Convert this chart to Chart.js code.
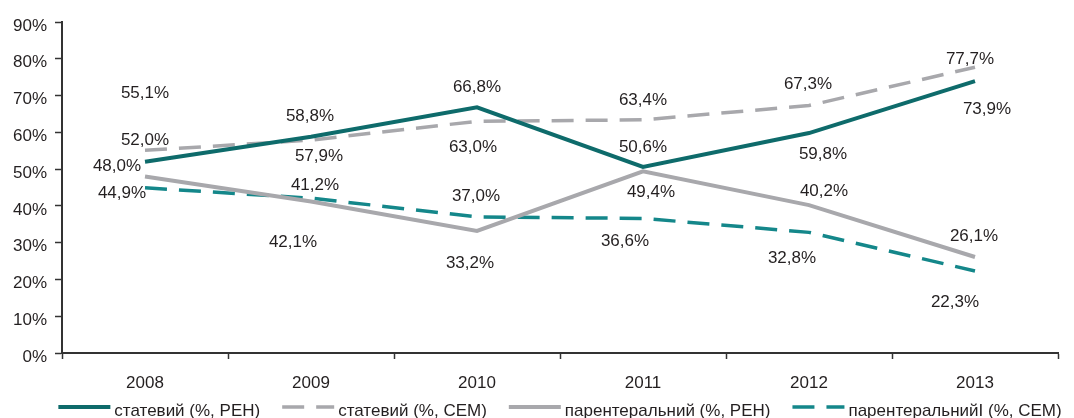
<!DOCTYPE html>
<html>
<head>
<meta charset="utf-8">
<script src="https://cdn.jsdelivr.net/npm/chart.js@4.4.1/dist/chart.umd.min.js"></script>
<style>
  html, body { margin: 0; padding: 0; background: #fff; }
  #wrap { width: 1074px; height: 418px; }
</style>
</head>
<body>
<div id="wrap"><canvas id="myChart"></canvas></div>
<script>
const years = ['2008', '2009', '2010', '2011', '2012', '2013'];
const statevyiReh = [52.0, 58.8, 66.8, 50.6, 59.8, 73.9];
const statevyiSem = [55.1, 57.9, 63.0, 63.4, 67.3, 77.7];
const parentReh = [48.0, 41.2, 33.2, 49.4, 40.2, 26.1];
const parentSem = [44.9, 42.1, 37.0, 36.6, 32.8, 22.3];
const yMax = 90;
const yStep = 10;

const FONT = '"Liberation Sans", Arial, Helvetica, sans-serif';
const TEXT = '#231f20';
const AXIS = '#333333';

// підписи значень біля кожної точки, зсув задається в наборі даних
const valueLabels = {
    id: 'valueLabels',
    afterDatasetsDraw(chart) {
        const ctx = chart.ctx;
        ctx.save();
        ctx.font = '17px ' + FONT;
        ctx.fillStyle = TEXT;
        ctx.textAlign = 'center';
        ctx.textBaseline = 'middle';
        chart.data.datasets.forEach((ds, i) => {
            chart.getDatasetMeta(i).data.forEach((pt, j) => {
                const [dx, dy] = ds.labelShift[j];
                const txt = ds.data[j].toFixed(1).replace('.', ',') + '%';
                ctx.fillText(txt, pt.x + dx, pt.y + dy);
            });
        });
        ctx.restore();
    },
};

// легенда внизу: зразок лінії + назва
const lineLegend = {
    id: 'lineLegend',
    afterDraw(chart) {
        const ctx = chart.ctx;
        const area = chart.chartArea;
        const sample = 52, gap = 4, spacing = 22;
        ctx.save();
        ctx.font = '17px ' + FONT;
        ctx.textBaseline = 'middle';
        ctx.textAlign = 'left';
        const items = chart.data.datasets.map(ds => ({ ds, w: ctx.measureText(ds.label).width }));
        const total = items.reduce((s, it) => s + sample + gap + it.w, 0) + spacing * (items.length - 1);
        let x = (area.left + area.right) / 2 - total / 2;
        const y = chart.height - 7;
        items.forEach(({ ds, w }) => {
            ctx.strokeStyle = ds.borderColor;
            ctx.lineWidth = ds.borderWidth;
            ctx.setLineDash(ds.borderDash || []);
            ctx.beginPath();
            ctx.moveTo(x, y - 4);
            ctx.lineTo(x + sample, y - 4);
            ctx.stroke();
            ctx.setLineDash([]);
            ctx.fillStyle = TEXT;
            ctx.fillText(ds.label, x + sample + gap, y);
            x += sample + gap + w + spacing;
        });
        ctx.restore();
    },
};

new Chart('myChart', {
    type: 'line',
    data: {
        labels: years,
        datasets: [
            {
                label: 'статевий (%, РЕН)',
                data: statevyiReh,
                borderColor: '#0e6b6b',
                borderWidth: 4,
                labelShift: [[0, -21], [-1, -20], [0, -20], [0, -20], [14, 21], [12, 28]],
            },
            {
                label: 'статевий (%, СЕМ)',
                data: statevyiSem,
                borderColor: '#a8a8ac',
                borderWidth: 3.5,
                borderDash: [22, 12],
                labelShift: [[0, -57], [8, 16], [-4, 26], [0, -20], [-1, -21], [-5, -8]],
            },
            {
                label: 'парентеральний (%, РЕН)',
                data: parentReh,
                borderColor: '#a8a8ac',
                borderWidth: 4,
                labelShift: [[-28, -10], [4, -16], [-7, 32], [8, 21], [15, -14], [-1, -21]],
            },
            {
                label: 'парентеральнийI (%, СЕМ)',
                data: parentSem,
                borderColor: '#14878a',
                borderWidth: 3.5,
                borderDash: [22, 12],
                labelShift: [[-23, 5], [-18, 44], [-1, -21], [-18, 23], [-17, 26], [-20, 31]],
            },
        ],
    },
    options: {
        responsive: true,
        maintainAspectRatio: false,
        animation: false,
        layout: { padding: { top: 22, right: 16, bottom: 27, left: 0 } },
        elements: {
            point: { radius: 0 },
            line: { tension: 0, borderCapStyle: 'butt' },
        },
        plugins: {
            legend: { display: false },
            tooltip: { enabled: false },
        },
        scales: {
            x: {
                offset: true,
                grid: { offset: true, drawOnChartArea: false, color: AXIS, tickLength: 6, tickWidth: 1.5 },
                border: { color: AXIS, width: 2 },
                ticks: { color: TEXT, font: { family: FONT, size: 17 }, padding: 14 },
                afterFit(scale) { scale.height = 38; },
            },
            y: {
                min: 0,
                max: yMax,
                grid: { drawOnChartArea: false, color: AXIS, tickLength: 7, tickWidth: 1.5 },
                border: { color: AXIS, width: 2 },
                ticks: {
                    stepSize: yStep,
                    color: TEXT,
                    font: { family: FONT, size: 17 },
                    padding: 8,
                    labelOffset: 4,
                    callback: v => v + '%',
                },
                afterFit(scale) { scale.width = 62; },
            },
        },
    },
    plugins: [valueLabels, lineLegend],
});
</script>
</body>
</html>
